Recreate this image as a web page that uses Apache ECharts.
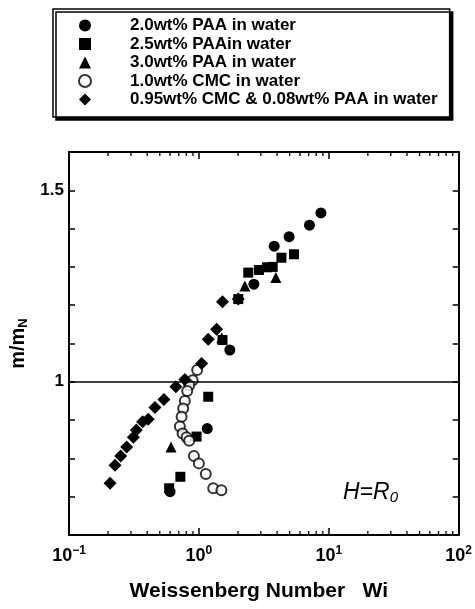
<!DOCTYPE html>
<html>
<head>
<meta charset="utf-8">
<script src="https://cdn.jsdelivr.net/npm/echarts@6/dist/echarts.min.js"></script>
<style>html,body{margin:0;padding:0;background:#fff;}#c{width:475px;height:609px;}</style>
</head>
<body>
<div id="c"></div>
<script>
// Series names
const seriesNames = [
  '2.0wt% PAA in water',
  '2.5wt% PAAin water',
  '3.0wt% PAA in water',
  '1.0wt% CMC in water',
  '0.95wt% CMC & 0.08wt% PAA in water'
];
// 2.0wt% PAA (filled circles)
const paa20Wi = [8.7, 7.1, 4.95, 3.8, 2.65, 1.73, 1.16, 0.6];
const paa20M  = [1.441, 1.409, 1.379, 1.354, 1.255, 1.083, 0.878, 0.713];
// 2.5wt% PAA (filled squares)
const paa25Wi = [5.4, 4.32, 3.7, 3.35, 2.9, 2.4, 2.01, 1.52, 1.18, 0.96, 0.72, 0.59];
const paa25M  = [1.333, 1.324, 1.300, 1.299, 1.292, 1.285, 1.216, 1.109, 0.961, 0.857, 0.752, 0.722];
// 3.0wt% PAA (filled triangles)
const paa30Wi = [3.91, 2.26, 1.5, 0.61];
const paa30M  = [1.272, 1.250, 1.115, 0.830];
// 1.0wt% CMC (open circles)
const cmcWi = [0.97, 0.895, 0.842, 0.813, 0.78, 0.757, 0.736, 0.714, 0.749, 0.804, 0.842, 0.915, 1.0, 1.13, 1.29, 1.49];
const cmcM  = [1.031, 1.004, 0.991, 0.976, 0.950, 0.930, 0.909, 0.883, 0.865, 0.855, 0.846, 0.806, 0.787, 0.759, 0.722, 0.717];
// 0.95wt% CMC & 0.08wt% PAA (diamonds)
const mixWi = [0.207, 0.226, 0.25, 0.278, 0.313, 0.33, 0.369, 0.407, 0.459, 0.538, 0.665, 0.78, 1.05, 1.18, 1.37, 1.52, 2.01];
const mixM  = [0.735, 0.782, 0.806, 0.830, 0.855, 0.874, 0.896, 0.902, 0.933, 0.954, 0.987, 1.006, 1.048, 1.111, 1.137, 1.209, 1.216];
// Reference line
const refLineM = 1;
// Axis ranges and ticks
const xMin = 0.1, xMax = 100;
const yMin = 0.6, yMax = 1.6, yStep = 0.1;
const yTickLabels = {'1': '1', '1.5': '1.5'};
const xMinorTicks = [0.2,0.3,0.4,0.5,0.6,0.7,0.8,0.9,2,3,4,5,6,7,8,9,20,30,40,50,60,70,80,90];

const zip = (a, b) => a.map((v, i) => [v, b[i]]);
const FONT = 'Arial, "Liberation Sans", Helvetica, sans-serif';

const chart = echarts.init(document.getElementById('c'), null, {renderer: 'canvas'});

function sc(name, wi, m, symbol, size, extra) {
  return Object.assign({
    name: name, type: 'scatter', data: zip(wi, m), symbol: symbol, symbolSize: size,
    itemStyle: {color: '#000', opacity: 1}, xAxisIndex: 0, yAxisIndex: 0, z: 3
  }, extra || {});
}

const option = {
  animation: false,
  backgroundColor: '#fff',
  grid: {left: 69, right: 15, top: 152, bottom: 74},
  legend: {
    data: seriesNames,
    orient: 'vertical',
    left: 53, top: 9,
    padding: [8, 12, 9, 25],
    itemGap: 1.5,
    itemWidth: 12, itemHeight: 12,
    selectedMode: false,
    backgroundColor: '#fff',
    borderColor: '#000', borderWidth: 1.5,
    shadowColor: '#000', shadowOffsetX: 3, shadowOffsetY: 3, shadowBlur: 0,
    textStyle: {fontSize: 17, fontWeight: 'bold', fontFamily: FONT, color: '#000', padding: [0, 0, 0, 34], lineHeight: 17}
  },
  xAxis: [{
    type: 'log', logBase: 10, min: xMin, max: xMax, position: 'bottom',
    axisLine: {show: true, onZero: false, lineStyle: {color: '#000', width: 2}},
    axisTick: {show: true, inside: true, length: 7, lineStyle: {color: '#000', width: 1.5}},
    splitLine: {show: false},
    axisLabel: {
      margin: 10, color: '#000', fontSize: 18, fontWeight: 'bold', fontFamily: FONT,
      formatter: v => {
        const e = Math.round(Math.log10(v));
        return '10{s|' + (e < 0 ? '\u2212' + (-e) : e) + '}';
      },
      rich: {s: {fontSize: 12, fontWeight: 'bold', fontFamily: FONT, color: '#000', verticalAlign: 'top', padding: [0, 0, 10, 0]}}
    },
    name: 'Weissenberg Number   Wi', nameLocation: 'middle', nameGap: 46,
    nameTextStyle: {fontSize: 21, fontWeight: 'bold', fontFamily: FONT, color: '#000', padding: [0, 10, 0, 0]}
  }, {
    type: 'log', logBase: 10, min: xMin, max: xMax, position: 'top',
    axisLine: {show: true, onZero: false, lineStyle: {color: '#000', width: 2}},
    axisTick: {show: true, inside: true, length: 7, lineStyle: {color: '#000', width: 1.5}},
    axisLabel: {show: false}, splitLine: {show: false}
  }],
  yAxis: [{
    type: 'value', min: yMin, max: yMax, interval: yStep, position: 'left',
    axisLine: {show: true, onZero: false, lineStyle: {color: '#000', width: 2}},
    axisTick: {show: true, inside: true, length: 6, lineStyle: {color: '#000', width: 1.5}},
    splitLine: {show: false},
    axisLabel: {
      margin: 5, color: '#000', fontSize: 17, fontWeight: 'bold', fontFamily: FONT,
      formatter: v => yTickLabels[String(Math.round(v * 10) / 10)] || ''
    },
    name: 'm/m{sub|N}', nameLocation: 'middle', nameRotate: 90, nameGap: 38,
    nameTextStyle: {fontSize: 20, fontWeight: 'bold', fontFamily: FONT, color: '#000',
      rich: {sub: {fontSize: 13, fontWeight: 'bold', fontFamily: FONT, color: '#000', verticalAlign: 'bottom', padding: [8, 0, 0, 0]}}}
  }, {
    type: 'value', min: yMin, max: yMax, interval: yStep, position: 'right',
    axisLine: {show: true, onZero: false, lineStyle: {color: '#000', width: 2}},
    axisTick: {show: true, inside: true, length: 6, lineStyle: {color: '#000', width: 1.5}},
    axisLabel: {show: false}, splitLine: {show: false}
  }],
  graphic: [{
    type: 'text', left: 343, top: 481,
    style: {
      text: 'H=R{s|0}', fill: '#000',
      font: 'italic 23px ' + FONT,
      rich: {s: {fontSize: 15, fontStyle: 'italic', fontFamily: FONT, fill: '#000', verticalAlign: 'bottom', padding: [10, 0, 0, 0]}}
    }
  }],
  series: [
    {
      name: 'minorTicks', type: 'custom', xAxisIndex: 0, yAxisIndex: 0, silent: true, z: 2, clip: false,
      data: xMinorTicks.map(v => [v, yMin]),
      renderItem: (params, api) => {
        const v = api.value(0);
        const b = api.coord([v, yMin]);
        const t = api.coord([v, yMax]);
        return {type: 'group', children: [
          {type: 'line', shape: {x1: b[0], y1: b[1], x2: b[0], y2: b[1] - 4}, style: {stroke: '#000', lineWidth: 1.3}},
          {type: 'line', shape: {x1: t[0], y1: t[1], x2: t[0], y2: t[1] + 4}, style: {stroke: '#000', lineWidth: 1.3}}
        ]};
      }
    },
    sc(seriesNames[0], paa20Wi, paa20M, 'circle', 11, {
      markLine: {
        silent: true, symbol: 'none', animation: false,
        label: {show: false},
        lineStyle: {color: '#000', width: 1.5, type: 'solid'},
        data: [{yAxis: refLineM}]
      }
    }),
    sc(seriesNames[1], paa25Wi, paa25M, 'rect', 10),
    sc(seriesNames[2], paa30Wi, paa30M, 'triangle', 11),
    sc(seriesNames[3], cmcWi, cmcM, 'emptyCircle', 10, {itemStyle: {color: '#000', borderColor: '#000', borderWidth: 1.8}}),
    sc(seriesNames[4], mixWi, mixM, 'diamond', 13)
  ]
};
chart.setOption(option);
</script>
</body>
</html>
